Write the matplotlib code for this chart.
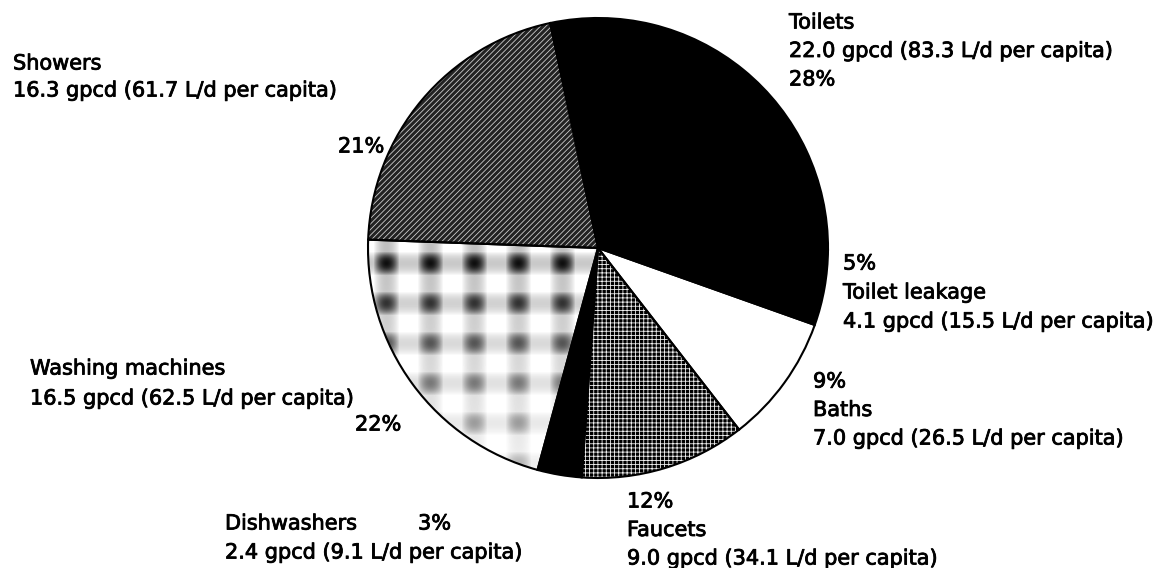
import matplotlib
matplotlib.use('Agg')
import matplotlib.pyplot as plt
import matplotlib.patheffects as pe
from matplotlib.patches import Wedge
import numpy as np

categories = ['Toilets', 'Toilet leakage', 'Baths', 'Faucets', 'Dishwashers',
              'Washing machines', 'Showers']
gpcd = [22.0, 4.1, 7.0, 9.0, 2.4, 16.5, 16.3]
lpcd = [83.3, 15.5, 26.5, 34.1, 9.1, 62.5, 61.7]
percent = [28, 5, 9, 12, 3, 22, 21]

W, H = 1159, 568
plt.rcParams['font.family'] = ['DejaVu Sans']
plt.rcParams['hatch.linewidth'] = 0.6

fig = plt.figure(figsize=(W / 100, H / 100), dpi=100)
ax = fig.add_axes([0, 0, 1, 1])

CX, CY, R = 598, H - 248, 230
wedges, _ = ax.pie(gpcd, center=(CX, CY), radius=R, startangle=102,
                   counterclock=False)
ax.set_xlim(0, W)
ax.set_ylim(0, H)
ax.set_aspect('equal')
ax.axis('off')

styles = [
    dict(fc='black', ec='black', hatch=None),          # Toilets
    dict(fc='black', ec='black', hatch=None),          # Toilet leakage
    dict(fc='white', ec='white', hatch=None),          # Baths
    dict(fc='black', ec='#f0f0f0', hatch='++++'),      # Faucets
    dict(fc='black', ec='black', hatch=None),          # Dishwashers
    dict(fc='white', ec='white', hatch=None),          # Washing machines
    dict(fc='#222222', ec='#cccccc', hatch='//////'),  # Showers
]
for w, st in zip(wedges, styles):
    w.set_facecolor(st['fc'])
    w.set_edgecolor(st['ec'])
    w.set_linewidth(0)
    if st['hatch']:
        w.set_hatch(st['hatch'])

# plaid texture for washing machines
wm = wedges[5]
x0, x1, y0, y1 = 365, 605, 225, 485  # image pixel coords
xs = np.arange(x0, x1)
ys = np.arange(y0, y1)
X, Y = np.meshgrid(xs, ys)
def bump(v, start, period, width):
    d = np.abs(((v - start + period / 2) % period) - period / 2)
    return np.clip(1 - (d / width) ** 2, 0, 1)
vx = bump(X, 386, 44, 13)
vy = bump(Y, 263, 40, 12)
fade = np.clip(1.0 - (Y - 255) / 280.0, 0.3, 1.0)
dark = fade * (0.25 * vx + 0.22 * vy + 0.5 * vx * vy)
img = 1 - np.clip(dark, 0, 1)
im = ax.imshow(img, cmap='gray', vmin=0, vmax=1, interpolation='nearest',
               extent=(x0, x1, H - y1, H - y0), origin='upper', zorder=2)
im.set_clip_path(wm)
ax.set_xlim(0, W)
ax.set_ylim(0, H)

for w in wedges:
    ax.add_patch(Wedge(w.center, w.r, w.theta1, w.theta2, fill=False,
                       edgecolor='black', linewidth=1.5, zorder=3))

FS = 15
thick = [pe.withStroke(linewidth=0.6, foreground='black')]
def txt(x, yc, s):
    ax.text(x, H - (yc + 7.5), s, fontsize=FS, va='baseline', ha='left',
            color='black', path_effects=thick)

def block(x, y_first, lines, dy=28.5):
    for k, s in enumerate(lines):
        txt(x, y_first + k * dy, s)

def desc(i):
    return f"{gpcd[i]:.1f} gpcd ({lpcd[i]:.1f} L/d per capita)"

def pct(i):
    return f"{percent[i]}%"

block(789, 21, [categories[0], desc(0), pct(0)])
block(13, 62, [categories[6], desc(6)], dy=27)
txt(338, 145, pct(6))
block(843, 262, [pct(1), categories[1], desc(1)], dy=29)
block(813, 380, [pct(2), categories[2], desc(2)])
block(30, 367, [categories[5], desc(5)], dy=30)
txt(355, 423, pct(5))
block(627, 500, [pct(3), categories[3], desc(3)])
block(225, 522, [categories[4], desc(4)], dy=29)
txt(418, 522, pct(4))

fig.savefig('out.png', dpi=100, facecolor='white')
